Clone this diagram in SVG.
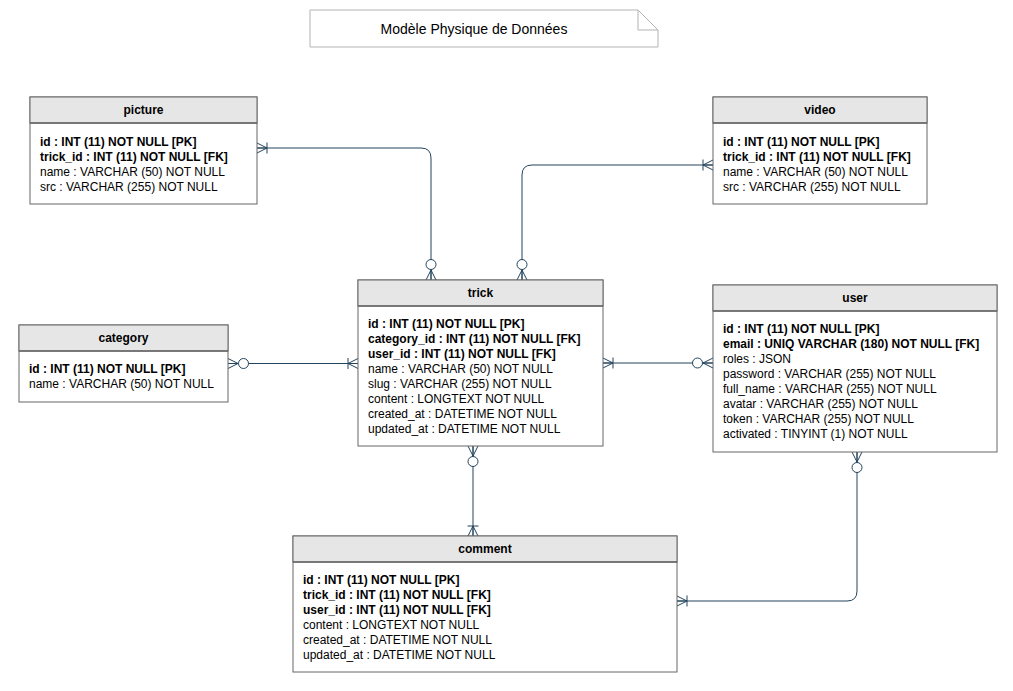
<svg xmlns="http://www.w3.org/2000/svg" width="1013" height="691" viewBox="0 0 1013 691">
<style>
text{font-family:"Liberation Sans",Arial,sans-serif;font-size:12px;fill:#000}
.hd{font-weight:bold;text-anchor:middle}
.b{font-weight:bold}
.box{fill:#fff;stroke:#666;stroke-width:1}
.head{fill:#e6e6e6;stroke:#666;stroke-width:1}
.sep{stroke:#666;stroke-width:1.5}
.con{fill:none;stroke:#23445d;stroke-width:1}
.mk{fill:none;stroke:#23445d;stroke-width:1}
.title{font-size:14px;text-anchor:middle}
</style>
<defs>
<marker id="zeroMany" markerUnits="userSpaceOnUse" orient="auto-start-reverse" refX="0" refY="0" markerWidth="30" markerHeight="20" overflow="visible">
<path class="mk" d="M-10,0 L0,-5 M-10,0 L0,5 M-10,0 L0,0"/>
<circle cx="-15.5" cy="0" r="5" fill="#fff" stroke="#23445d"/>
</marker>
<marker id="oneMany" markerUnits="userSpaceOnUse" orient="auto-start-reverse" refX="0" refY="0" markerWidth="30" markerHeight="20" overflow="visible">
<path class="mk" d="M-10,0 L0,-5 M-10,0 L0,5 M-10,0 L0,0 M-10,-5.5 L-10,5.5"/>
</marker>
</defs>
<rect width="1013" height="691" fill="#fff"/>

<g id="title">
<path d="M310,10 H638 L658,30 V47 H310 Z" fill="#fff" stroke="#b3b3b3"/>
<path d="M638,10 V30 H658" fill="none" stroke="#b3b3b3"/>
<text class="title" x="474" y="34">Modèle Physique de Données</text>
</g>

<g id="connectors">
<path class="con" d="M257,148 H421 Q431,148 431,158 V280" marker-start="url(#oneMany)" marker-end="url(#zeroMany)"/>
<path class="con" d="M522,280 V175 Q522,165 532,165 H713" marker-start="url(#zeroMany)" marker-end="url(#oneMany)"/>
<path class="con" d="M228,363.5 H358" marker-start="url(#zeroMany)" marker-end="url(#oneMany)"/>
<path class="con" d="M603,363 H713" marker-start="url(#oneMany)" marker-end="url(#zeroMany)"/>
<path class="con" d="M473,446 V536" marker-start="url(#zeroMany)" marker-end="url(#oneMany)"/>
<path class="con" d="M857,452 V591 Q857,601 847,601 H677" marker-start="url(#zeroMany)" marker-end="url(#oneMany)"/>
</g>

<g id="picture">
<rect class="box" x="30" y="97" width="227" height="107"/>
<rect class="head" x="30" y="97" width="227" height="26"/>
<line class="sep" x1="30" y1="123" x2="257" y2="123"/>
<text class="hd" x="143.5" y="114">picture</text>
<text class="b" x="40" y="146">id : INT (11) NOT NULL [PK]</text>
<text class="b" x="40" y="161">trick_id : INT (11) NOT NULL [FK]</text>
<text x="40" y="176">name : VARCHAR (50) NOT NULL</text>
<text x="40" y="191">src : VARCHAR (255) NOT NULL</text>
</g>

<g id="video">
<rect class="box" x="713" y="97" width="214" height="107"/>
<rect class="head" x="713" y="97" width="214" height="26"/>
<line class="sep" x1="713" y1="123" x2="927" y2="123"/>
<text class="hd" x="820" y="114">video</text>
<text class="b" x="723" y="146">id : INT (11) NOT NULL [PK]</text>
<text class="b" x="723" y="161">trick_id : INT (11) NOT NULL [FK]</text>
<text x="723" y="176">name : VARCHAR (50) NOT NULL</text>
<text x="723" y="191">src : VARCHAR (255) NOT NULL</text>
</g>

<g id="trick">
<rect class="box" x="358" y="280" width="245" height="166"/>
<rect class="head" x="358" y="280" width="245" height="26"/>
<line class="sep" x1="358" y1="306" x2="603" y2="306"/>
<text class="hd" x="480.5" y="297">trick</text>
<text class="b" x="368" y="328">id : INT (11) NOT NULL [PK]</text>
<text class="b" x="368" y="343">category_id : INT (11) NOT NULL [FK]</text>
<text class="b" x="368" y="358">user_id : INT (11) NOT NULL [FK]</text>
<text x="368" y="373">name : VARCHAR (50) NOT NULL</text>
<text x="368" y="388">slug : VARCHAR (255) NOT NULL</text>
<text x="368" y="403">content : LONGTEXT NOT NULL</text>
<text x="368" y="418">created_at : DATETIME NOT NULL</text>
<text x="368" y="433">updated_at : DATETIME NOT NULL</text>
</g>

<g id="category">
<rect class="box" x="19" y="325" width="209" height="77"/>
<rect class="head" x="19" y="325" width="209" height="26"/>
<line class="sep" x1="19" y1="351" x2="228" y2="351"/>
<text class="hd" x="123.5" y="342">category</text>
<text class="b" x="29" y="373">id : INT (11) NOT NULL [PK]</text>
<text x="29" y="388">name : VARCHAR (50) NOT NULL</text>
</g>

<g id="user">
<rect class="box" x="713" y="285" width="284" height="167"/>
<rect class="head" x="713" y="285" width="284" height="26"/>
<line class="sep" x1="713" y1="311" x2="997" y2="311"/>
<text class="hd" x="855" y="302">user</text>
<text class="b" x="723" y="333">id : INT (11) NOT NULL [PK]</text>
<text class="b" x="723" y="348">email : UNIQ VARCHAR (180) NOT NULL [FK]</text>
<text x="723" y="363">roles : JSON</text>
<text x="723" y="378">password : VARCHAR (255) NOT NULL</text>
<text x="723" y="393">full_name : VARCHAR (255) NOT NULL</text>
<text x="723" y="408">avatar : VARCHAR (255) NOT NULL</text>
<text x="723" y="423">token : VARCHAR (255) NOT NULL</text>
<text x="723" y="438">activated : TINYINT (1) NOT NULL</text>
</g>

<g id="comment">
<rect class="box" x="293" y="536" width="384" height="136"/>
<rect class="head" x="293" y="536" width="384" height="26"/>
<line class="sep" x1="293" y1="562" x2="677" y2="562"/>
<text class="hd" x="485" y="553">comment</text>
<text class="b" x="303" y="584">id : INT (11) NOT NULL [PK]</text>
<text class="b" x="303" y="599">trick_id : INT (11) NOT NULL [FK]</text>
<text class="b" x="303" y="614">user_id : INT (11) NOT NULL [FK]</text>
<text x="303" y="629">content : LONGTEXT NOT NULL</text>
<text x="303" y="644">created_at : DATETIME NOT NULL</text>
<text x="303" y="659">updated_at : DATETIME NOT NULL</text>
</g>
</svg>
